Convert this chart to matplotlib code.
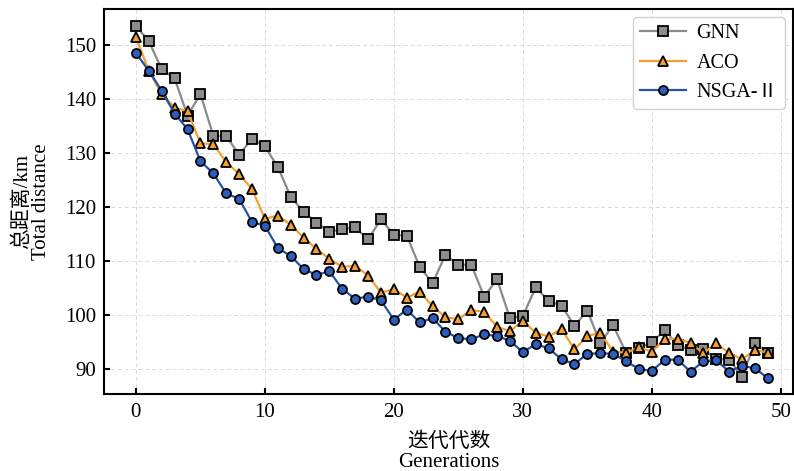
import matplotlib
matplotlib.use("Agg")
import matplotlib.pyplot as plt
import numpy as np

plt.rcParams['font.family'] = ['Liberation Serif', 'Noto Sans CJK SC', 'DejaVu Sans']
plt.rcParams['mathtext.fontset'] = 'stix'

# data
generations = list(range(50))
gnn = [153.5, 150.7, 145.5, 143.8, 136.9, 140.9, 133.2, 133.1, 129.7, 132.6,
       131.2, 127.4, 121.9, 119.1, 117.1, 115.4, 115.9, 116.2, 114.0, 117.7,
       114.8, 114.7, 108.9, 105.9, 111.1, 109.3, 109.3, 103.4, 106.6, 99.4,
       99.8, 105.1, 102.6, 101.7, 98.0, 100.8, 94.8, 98.1, 93.0, 93.9,
       94.9, 97.2, 94.4, 93.5, 93.6, 91.9, 91.7, 88.6, 94.8, 93.0]
aco = [151.4, 145.2, 140.9, 138.4, 137.7, 131.8, 131.6, 128.3, 126.1, 123.3,
       117.8, 118.4, 116.7, 114.3, 112.2, 110.4, 108.9, 109.1, 107.3, 104.1,
       104.8, 103.2, 104.3, 101.6, 99.6, 99.2, 100.9, 100.6, 97.8, 97.0,
       98.9, 96.7, 96.0, 97.4, 93.6, 96.1, 96.7, 93.2, 93.0, 94.0,
       93.2, 95.5, 95.6, 94.8, 92.9, 94.8, 92.9, 91.8, 93.5, 93.0]
nsga = [148.5, 145.2, 141.5, 137.3, 134.4, 128.5, 126.2, 122.5, 121.5, 117.2,
        116.5, 112.4, 110.9, 108.5, 107.4, 108.1, 104.8, 103.0, 103.4, 102.7,
        99.1, 101.0, 98.6, 99.4, 96.9, 95.7, 95.5, 96.4, 96.1, 95.2,
        93.1, 94.6, 93.8, 91.8, 90.9, 92.8, 92.9, 92.8, 91.4, 90.0,
        89.6, 91.7, 91.7, 89.5, 91.4, 91.6, 89.5, 90.6, 90.1, 88.3]

fig = plt.figure(figsize=(7.94, 4.71), dpi=100)
ax = fig.add_axes([0.1314, 0.1628, 0.8674, 0.8175])

ax.plot(generations, gnn, color='#8a8a8a', lw=1.6, marker='s', ms=6.5,
        mfc='#8c8c8c', mec='black', mew=1.3, label='GNN')
ax.plot(generations, aco, color='#f5a02c', lw=1.6, marker='^', ms=7,
        mfc='#f5a02c', mec='black', mew=1.3, label='ACO')
ax.plot(generations, nsga, color='#2552a6', lw=1.6, marker='o', ms=6.5,
        mfc='#2c5fbd', mec='black', mew=1.3, label='NSGA-Ⅱ')

ax.set_xlim(-2.45, 50.95)
ax.set_ylim(85.3, 156.6)
ax.set_xticks([0, 10, 20, 30, 40, 50])
ax.set_yticks([90, 100, 110, 120, 130, 140, 150])
ax.grid(True, ls=(0, (4, 3)), color='#dadada', lw=0.7)
ax.set_axisbelow(True)
ax.tick_params(direction='in', length=4, width=1.5, labelsize=15, pad=6)
for s in ax.spines.values():
    s.set_linewidth(1.5)

ax.set_xlabel('迭代代数\nGenerations', fontsize=15, linespacing=1.05, labelpad=8)
ax.set_ylabel('总距离/km\nTotal distance', fontsize=15, linespacing=1.0, labelpad=10)

leg = ax.legend(loc='upper right', fontsize=14.5, handlelength=2.3,
                handletextpad=0.5, edgecolor='#d0d0d0', framealpha=1.0,
                borderpad=0.35, labelspacing=0.5, borderaxespad=0.4)

plt.savefig('out.png', dpi=100)
